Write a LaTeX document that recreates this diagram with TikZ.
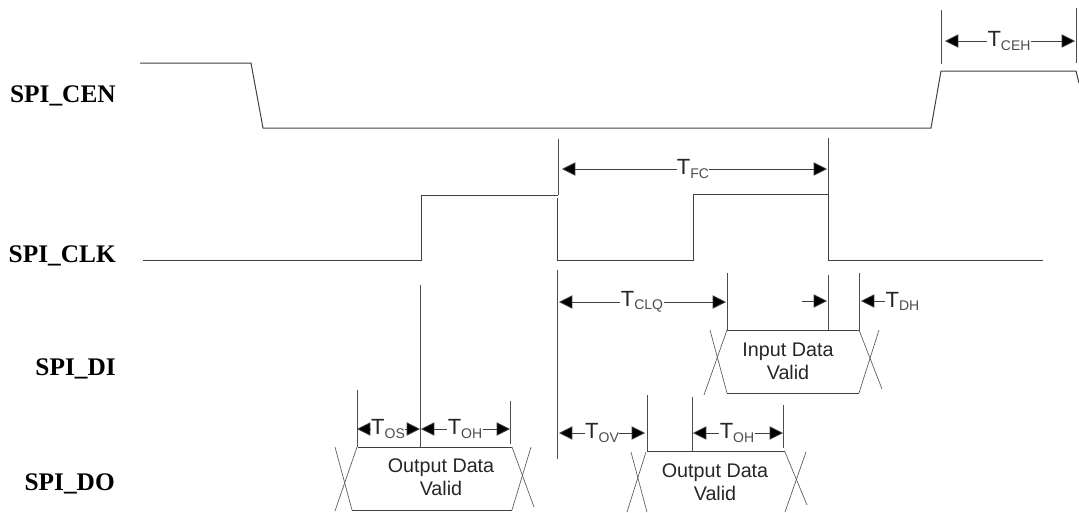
\documentclass[tikz,border=0pt]{standalone}
\usepackage{fontspec}
\setmainfont{Liberation Sans}
\newfontfamily\lblfont{Liberation Serif}
\usetikzlibrary{arrows.meta}
\newcommand{\tlabel}[1]{{\fontsize{16.5}{16.5}\selectfont T}{\fontsize{10.5}{10.5}\selectfont\color{black!70}\raisebox{-2.3pt}{#1}}}
\tikzset{
  x=0.75pt,y=-0.75pt,
  wave/.style={draw=black!75,line width=0.75pt,line join=miter},
  guide/.style={draw=black!70,line width=0.6pt},
  cross/.style={draw=black!65,line width=0.5pt},
  dim/.style={draw=black!75,line width=0.6pt,{Triangle[length=10pt,width=10pt,fill=black]}-{Triangle[length=10pt,width=10pt,fill=black]}},
  dimr/.style={draw=black!75,line width=0.6pt,-{Triangle[length=10pt,width=10pt,fill=black]}},
  tag/.style={inner sep=0.3pt,fill=white,text=black!85},
  sig/.style={font=\lblfont\bfseries\fontsize{19}{19}\selectfont,anchor=base east,inner sep=0pt},
  body/.style={font=\fontsize{14.8}{17.2}\selectfont,text=black!85,inner sep=0pt}
}
\begin{document}
\begin{tikzpicture}
\useasboundingbox (0,0) rectangle (1079,512);
% signal names
\node[sig] (nCEN) at (116,102) {SPI\_CEN};
\node[sig] (nCLK) at (116,262) {SPI\_CLK};
\node[sig] (nDI) at (116,375) {SPI\_DI};
\node[sig] (nDO) at (115,490) {SPI\_DO};
% waveforms
\draw[wave] (140,63) -- (251,63) -- (263,128) -- (931,128) -- (941,71) -- (1076,71) -- (1079,83);
\draw[wave] (143,260) -- (421,260) -- (421,195) -- (558,195);
\draw[wave] (557,198) -- (557,260) -- (693,260) -- (693,194) -- (828,194) -- (828,260) -- (1043,260);
% guides
\coordinate (ceA) at (941,10); \coordinate (ceAb) at (941,64);
\coordinate (ceB) at (1076,8); \coordinate (ceBb) at (1076,63);
\draw[guide] (ceA) -- (ceAb);
\draw[guide] (ceB) -- (ceBb);
\coordinate (fcA) at (558,139); \coordinate (fcAb) at (558,195);
\coordinate (fcB) at (828,138); \coordinate (fcBb) at (828,194);
\draw[guide] (fcA) -- (fcAb);
\draw[guide] (fcB) -- (fcBb);
\draw[guide] (557,270) -- (557,459);
\draw[guide] (727,273) -- (727,330);
\draw[guide] (828,275) -- (828,330);
\draw[guide] (859,273) -- (859,330);
\draw[guide] (647,395) -- (647,451);
\draw[guide] (692,397) -- (692,451);
\draw[guide] (783,405) -- (783,448);
\draw[guide] (357,390) -- (357,447);
\draw[guide] (420,285) -- (420,447);
\draw[guide] (510,401) -- (510,444);
% data boxes
\draw[wave] (727,330.5) -- (860,330.5);
\draw[wave] (727,393) -- (859,393);
\draw[cross] (710,330) -- (727,393);
\draw[cross] (727,330) -- (704,395);
\draw[cross] (859,330) -- (882,389);
\draw[cross] (879,330) -- (859,393);
\node[body,align=center] (di) at (788,361) {Input Data\\Valid};
\draw[wave] (647,451.5) -- (785,451.5);
\draw[cross] (631,452) -- (647,512);
\draw[cross] (646,452) -- (627,512);
\draw[cross] (785,452) -- (807,505);
\draw[cross] (806,452) -- (785,512);
\node[body,align=center] (do2) at (715,482) {Output Data\\Valid};
\draw[wave] (358,447) -- (512,447);
\draw[wave] (352,510) -- (512,510);
\draw[cross] (335,447) -- (352,510);
\draw[cross] (357,447) -- (335,511);
\draw[cross] (512,447) -- (534,507);
\draw[cross] (531,447) -- (512,510);
\node[body,align=center] (do1) at (441,477) {Output Data\\Valid};
% dimensions
\draw[dim] (945,41) -- (1075,41);
\node[tag] (tceh) at (1009,41) {\tlabel{CEH}};
\draw[dim] (562,169) -- (827,169);
\node[tag] (tfc) at (693,169) {\tlabel{FC}};
\draw[dim] (559,302) -- (726,302);
\node[tag] (tclq) at (642,302) {\tlabel{CLQ}};
\draw[dimr] (802,301) -- (827,301);
\draw[dimr] (885,301) -- (861,301);
\node[tag,anchor=west] (tdh) at (885,301) {\tlabel{DH}};
\draw[dim] (559,433) -- (645,433);
\node[tag] (tov) at (602,433) {\tlabel{OV}};
\draw[dim] (693,433) -- (783,433);
\node[tag] (toh) at (737,433) {\tlabel{OH}};
\draw[dim] (357,429) -- (420,429);
\node[tag] (tos) at (388,429) {\tlabel{OS}};
\draw[dim] (421,429) -- (510,429);
\node[tag] (toh1) at (465,429) {\tlabel{OH}};
\end{tikzpicture}
\end{document}
